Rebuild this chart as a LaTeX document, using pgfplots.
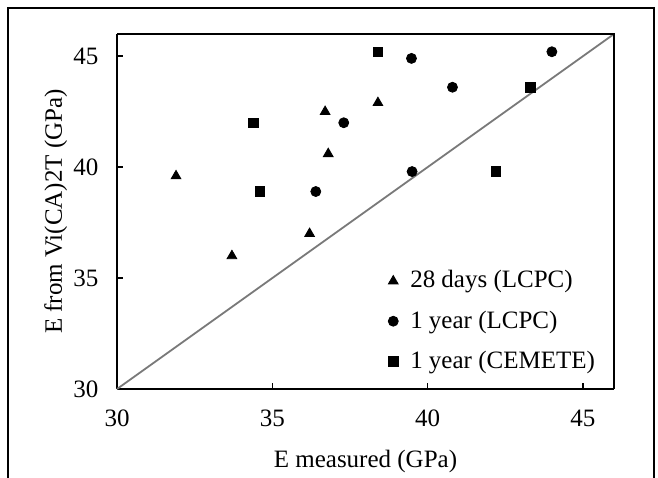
\documentclass[border=0pt]{standalone}
\usepackage{pgfplots}
\pgfplotsset{compat=1.18}
\usepackage{fontspec}
\setmainfont{Liberation Serif}
\begin{document}
\fontsize{12.5}{15}\selectfont
\begin{tikzpicture}
\useasboundingbox (0,0) rectangle (329pt,238.5pt);
\draw[line width=1pt] (4pt,-10pt) rectangle (327pt,234.5pt);
\begin{axis}[
  at={(58.5pt,44pt)}, anchor=south west,
  scale only axis, width=248.5pt, height=177.5pt,
  xmin=30, xmax=46, ymin=30, ymax=46,
  xtick={30,35,40,45}, ytick={30,35,40,45},
  tick align=inside, axis x line*=bottom, axis y line*=left,
  axis line style={line width=1pt, -},
  major tick length=3pt, tick style={line width=0.8pt, black},
  /pgf/number format/assume math mode=true,
  ticklabel style={font=\fontsize{12.5}{15}\selectfont},
  yticklabel style={xshift=-5pt},
  xticklabel style={yshift=-6pt},
  xlabel={E measured (GPa)},
  ylabel={E from Vi(CA)2T (GPa)},
  label style={font=\fontsize{12.5}{15}\selectfont},
  xlabel style={yshift=-3pt},
  ylabel style={yshift=-5.5pt},
  clip=false,
  legend style={draw=none, fill=none, at={(0.545,0.346)}, anchor=north west,
    font=\fontsize{12.5}{15}\selectfont, row sep=5.5pt, inner sep=0pt},
  legend cell align=left,
  legend image code/.code={\draw[#1] plot coordinates {(0.12cm,0cm)}; \path (0.12cm+6.3pt,0cm);},
]
\addplot[only marks, mark=triangle*, mark size=2.8pt, black] coordinates {
 (31.9,39.6) (33.7,36.0) (36.2,37.0) (36.7,42.5) (36.8,40.6) (38.4,42.9)};
\addlegendentry{28 days (LCPC)}
\addplot[only marks, mark=*, mark size=2.5pt, black] coordinates {
 (39.48,44.9) (40.8,43.6) (37.3,42.0) (36.4,38.9) (39.5,39.8) (44.0,45.2)};
\addlegendentry{1 year (LCPC)}
\addplot[only marks, mark=square*, mark size=2.4pt, black] coordinates {
 (38.4,45.2) (34.4,42.0) (34.6,38.9) (43.3,43.6) (42.2,39.8)};
\addlegendentry{1 year (CEMETE)}
\addplot[gray!95!black, line width=0.9pt, forget plot] coordinates {(30,30) (46,46)};
\draw[line width=1pt] (axis cs:30,46) -- (axis cs:46,46) -- (axis cs:46,30);
\end{axis}
\end{tikzpicture}
\end{document}
